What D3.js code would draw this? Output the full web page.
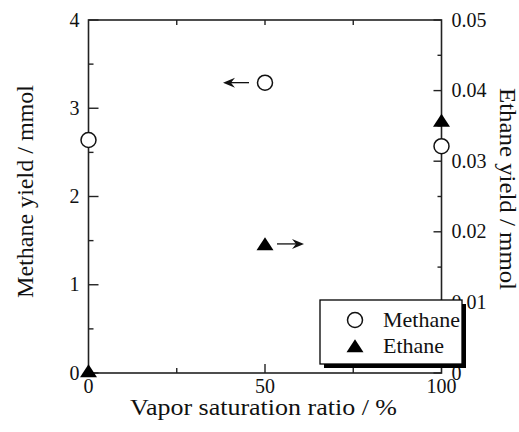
<!DOCTYPE html>
<html><head><meta charset="utf-8">
<script src="https://cdn.jsdelivr.net/npm/d3@7/dist/d3.min.js"></script>
<style>body{margin:0;background:#fff}</style>
</head><body>
<svg id="c" width="519" height="432"></svg>
<script>
const ratios = [0, 50, 100];
const methane = [2.64, 3.29, 2.57];
const ethane = [0, 0.018, 0.0355];
const xTicks = [0, 50, 100];
const yLeftTicks = [0, 1, 2, 3, 4];
const yRightTicks = [0, 0.01, 0.02, 0.03, 0.04, 0.05];
const legendItems = ["Methane", "Ethane"];

const svg = d3.select("#c");
const L = 88.5, R = 441.5, T = 20, B = 373;
const x = d3.scaleLinear().domain([0, 100]).range([L, R]);
const yL = d3.scaleLinear().domain([0, 4]).range([B, T]);
const yR = d3.scaleLinear().domain([0, 0.05]).range([B, T]);
const font = "'Liberation Serif', 'Times New Roman', serif";
const col = "#222";

// frame
svg.append("rect").attr("x", L).attr("y", T).attr("width", R - L).attr("height", B - T)
  .attr("fill", "none").attr("stroke", col).attr("stroke-width", 1.6);

const g = svg.append("g").attr("stroke", col).attr("stroke-width", 1.4);
d3.range(0, 4.01, 0.5).forEach(v => {
  const len = Number.isInteger(v) ? 10 : 5;
  g.append("line").attr("x1", L).attr("x2", L + len).attr("y1", yL(v)).attr("y2", yL(v));
});
d3.range(0, 0.0501, 0.005).forEach((v, i) => {
  const len = i % 2 === 0 ? 8 : 4;
  g.append("line").attr("x1", R).attr("x2", R - len).attr("y1", yR(v)).attr("y2", yR(v));
});
[25, 50, 75].forEach(v => {
  const len = v === 50 ? 9 : 5;
  g.append("line").attr("x1", x(v)).attr("x2", x(v)).attr("y1", B).attr("y2", B - len);
  g.append("line").attr("x1", x(v)).attr("x2", x(v)).attr("y1", T).attr("y2", T + 5);
});

// tick labels
const tl = svg.append("g").attr("font-family", font).attr("font-size", 20).attr("fill", "#111");
yLeftTicks.forEach(v => tl.append("text").attr("x", L - 9).attr("y", yL(v)).attr("dy", "0.33em")
  .attr("text-anchor", "end").text(d3.format("d")(v)));
yRightTicks.forEach(v => tl.append("text").attr("x", R + 10).attr("y", yR(v)).attr("dy", "0.33em")
  .attr("text-anchor", "start").text(v === 0 ? "0" : d3.format(".2f")(v)));
xTicks.forEach(v => tl.append("text").attr("x", x(v)).attr("y", B + 20)
  .attr("text-anchor", "middle").text(v));

// axis titles
svg.append("text").attr("x", 130).attr("y", 415)
  .attr("textLength", 267).attr("lengthAdjust", "spacingAndGlyphs")
  .attr("font-family", font).attr("font-size", 24).attr("fill", "#111").text("Vapor saturation ratio / %");
svg.append("text").attr("transform", `translate(33,298) rotate(-90)`)
  .attr("textLength", 213).attr("lengthAdjust", "spacingAndGlyphs")
  .attr("font-family", font).attr("font-size", 24).attr("fill", "#111").text("Methane yield / mmol");
svg.append("text").attr("transform", `translate(500,88) rotate(90)`)
  .attr("textLength", 202).attr("lengthAdjust", "spacingAndGlyphs")
  .attr("font-family", font).attr("font-size", 23).attr("fill", "#111").text("Ethane yield / mmol");

// markers
const tri = (cx, cy) => {
  const w = 8.5, h = 13;
  return `M${cx},${cy - h * 2 / 3}L${cx + w},${cy + h / 3}L${cx - w},${cy + h / 3}Z`;
};
ratios.forEach((r, i) => {
  svg.append("path").attr("d", tri(x(r), yR(ethane[i]))).attr("fill", "#000");
});
ratios.forEach((r, i) => {
  svg.append("circle").attr("cx", x(r)).attr("cy", yL(methane[i])).attr("r", 7.5)
    .attr("fill", "#fff").attr("stroke", "#111").attr("stroke-width", 1.5);
});

// arrows
function arrow(x1, x2, y) {
  const dir = Math.sign(x2 - x1);
  svg.append("line").attr("x1", x1).attr("x2", x2 - dir * 4).attr("y1", y).attr("y2", y)
    .attr("stroke", "#111").attr("stroke-width", 1.3);
  svg.append("path").attr("d",
    `M${x2},${y}L${x2 - dir * 12},${y - 5}L${x2 - dir * 8},${y}L${x2 - dir * 12},${y + 5}Z`)
    .attr("fill", "#111");
}
arrow(x(50) - 16, x(50) - 42, yL(methane[1]));
arrow(x(50) + 12, x(50) + 39, yR(ethane[1]) - 2);

// legend
const lg = svg.append("g");
lg.append("rect").attr("x", 324).attr("y", 304).attr("width", 142).attr("height", 64).attr("fill", "#000");
lg.append("rect").attr("x", 320).attr("y", 300).attr("width", 142).attr("height", 64)
  .attr("fill", "#fff").attr("stroke", "#000").attr("stroke-width", 1.3);
lg.append("circle").attr("cx", 355).attr("cy", 320).attr("r", 7.5)
  .attr("fill", "#fff").attr("stroke", "#111").attr("stroke-width", 1.5);
lg.append("path").attr("d", tri(355, 348)).attr("fill", "#000");
legendItems.forEach((t, i) => lg.append("text").attr("x", 383).attr("y", 327 + i * 26)
  .attr("font-family", font).attr("font-size", 22).attr("fill", "#111").text(t));
</script>
</body></html>
